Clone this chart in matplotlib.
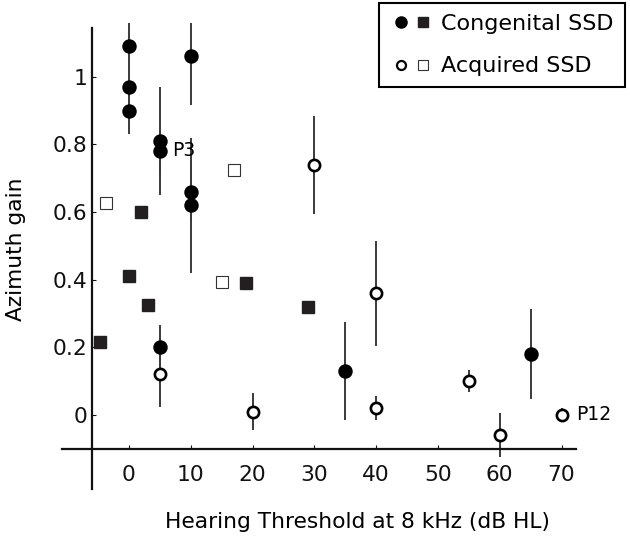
import matplotlib
matplotlib.use("Agg")
import matplotlib.pyplot as plt
from matplotlib.lines import Line2D
from matplotlib.legend_handler import HandlerTuple

# ---------------- data ----------------
cong_circ_x = [0, 0, 0, 5, 5, 5, 10, 10, 10, 35, 65]
cong_circ_y = [1.09, 0.97, 0.90, 0.81, 0.78, 0.20, 1.06, 0.66, 0.62, 0.13, 0.18]
cong_circ_err = [0.09, 0.03, 0.07, 0.16, 0.06, 0.065, 0.145, 0.09, 0.20, 0.145, 0.133]

acq_circ_x = [5, 20, 30, 40, 40, 55, 60, 70]
acq_circ_y = [0.12, 0.01, 0.74, 0.36, 0.02, 0.10, -0.06, 0.0]
acq_circ_err = [0.095, 0.055, 0.145, 0.155, 0.035, 0.032, 0.065, 0.02]

cong_sq_x = [-4.7, 2, 0, 3, 19, 29]
cong_sq_y = [0.217, 0.60, 0.41, 0.325, 0.39, 0.318]

acq_sq_x = [-3.8, 17, 15]
acq_sq_y = [0.628, 0.723, 0.393]

x_ticks = [0, 10, 20, 30, 40, 50, 60, 70]
x_tick_labels = ["0", "10", "20", "30", "40", "50", "60", "70"]
y_ticks = [0, 0.2, 0.4, 0.6, 0.8, 1.0]
y_tick_labels = ["0", "0.2", "0.4", "0.6", "0.8", "1"]

annotations = [("P3", 6.9, 0.783), ("P12", 72.3, 0.0)]
legend_labels = ["Congenital SSD", "Acquired SSD"]
x_label = "Hearing Threshold at 8 kHz (dB HL)"
y_label = "Azimuth gain"

# ---------------- layout ----------------
W, H = 630, 537
plt.rcParams['font.family'] = ['DejaVu Sans']
fig = plt.figure(figsize=(W / 100, H / 100), dpi=100)

# pixel mapping: x=0 -> 129 px, 6.18 px/unit ; y=0 -> 415 px, 338.3 px/unit
xlim = (-11, 73)
ylim = (-0.23, 1.16)
px_l = 129 + 6.18 * xlim[0]
px_r = 129 + 6.18 * xlim[1]
py_b = 415 - 338.3 * ylim[0]
py_t = 415 - 338.3 * ylim[1]
ax = fig.add_axes([px_l / W, 1 - py_b / H, (px_r - px_l) / W, (py_b - py_t) / H])
ax.set_xlim(*xlim)
ax.set_ylim(*ylim)

err_color = "#3a3a3a"
# error bars
ax.errorbar(cong_circ_x, cong_circ_y, yerr=cong_circ_err, fmt='none',
            ecolor=err_color, elinewidth=1.4, capsize=0, zorder=2)
ax.errorbar(acq_circ_x, acq_circ_y, yerr=acq_circ_err, fmt='none',
            ecolor=err_color, elinewidth=1.4, capsize=0, zorder=2)

# markers
ax.plot(cong_sq_x, cong_sq_y, ls='none', marker='s', ms=8.4,
        mfc='#231f20', mec='#231f20', zorder=3)
ax.plot(acq_sq_x, acq_sq_y, ls='none', marker='s', ms=8.0,
        mfc='white', mec='#333333', mew=0.8, zorder=3)
ax.plot(cong_circ_x, cong_circ_y, ls='none', marker='o', ms=9.4,
        mfc='black', mec='black', zorder=4)
ax.plot(acq_circ_x, acq_circ_y, ls='none', marker='o', ms=8.1,
        mfc='white', mec='black', mew=1.9, zorder=4)

for txt, tx, ty in annotations:
    ax.text(tx, ty, txt, fontsize=13.5, ha='left', va='center', zorder=5)

# spines crossing like the original
for s in ['top', 'right']:
    ax.spines[s].set_visible(False)
ax.spines['left'].set_position(('data', -6.0))
ax.spines['left'].set_bounds(-0.22, 1.145)
ax.spines['bottom'].set_position(('data', -0.10))
ax.spines['bottom'].set_bounds(-10.8, 72.4)
for s in ['left', 'bottom']:
    ax.spines[s].set_linewidth(1.6)
    ax.spines[s].set_color('#111111')

ax.set_xticks(x_ticks)
ax.set_xticklabels(x_tick_labels)
ax.set_yticks(y_ticks)
ax.set_yticklabels(y_tick_labels)
ax.tick_params(axis='x', direction='in', length=3, width=0.8, pad=12,
               labelsize=15.7, colors='#111111')
ax.tick_params(axis='y', direction='in', length=3, width=0.8, pad=3.2,
               labelsize=15.7, colors='#111111')

fig.text(165 / W, 1 - 528.3 / H, x_label, fontsize=15.7, ha='left', va='baseline')
fig.text(16 / W, 1 - 249 / H, y_label, fontsize=15.7, rotation=90,
         ha='center', va='center')

# legend
h1c = Line2D([], [], ls='none', marker='o', ms=8, mfc='black', mec='black')
h1s = Line2D([], [], ls='none', marker='s', ms=7, mfc='#231f20', mec='#231f20')
h2c = Line2D([], [], ls='none', marker='o', ms=6.5, mfc='white', mec='black', mew=1.6)
h2s = Line2D([], [], ls='none', marker='s', ms=7, mfc='white', mec='#333333', mew=0.8)
leg = ax.legend([(h1c, h1s), (h2c, h2s)], legend_labels,
                handler_map={tuple: HandlerTuple(ndivide=None, pad=0)},
                loc='upper right', bbox_to_anchor=(625 / W, 1 - 3 / H),
                bbox_transform=fig.transFigure, borderaxespad=0,
                fontsize=16, frameon=True, fancybox=False, framealpha=1,
                edgecolor='black', borderpad=0.5, labelspacing=1.0,
                handlelength=1.98, handletextpad=0.32)
leg.get_frame().set_linewidth(1.5)

fig.savefig("out.png", dpi=100)
